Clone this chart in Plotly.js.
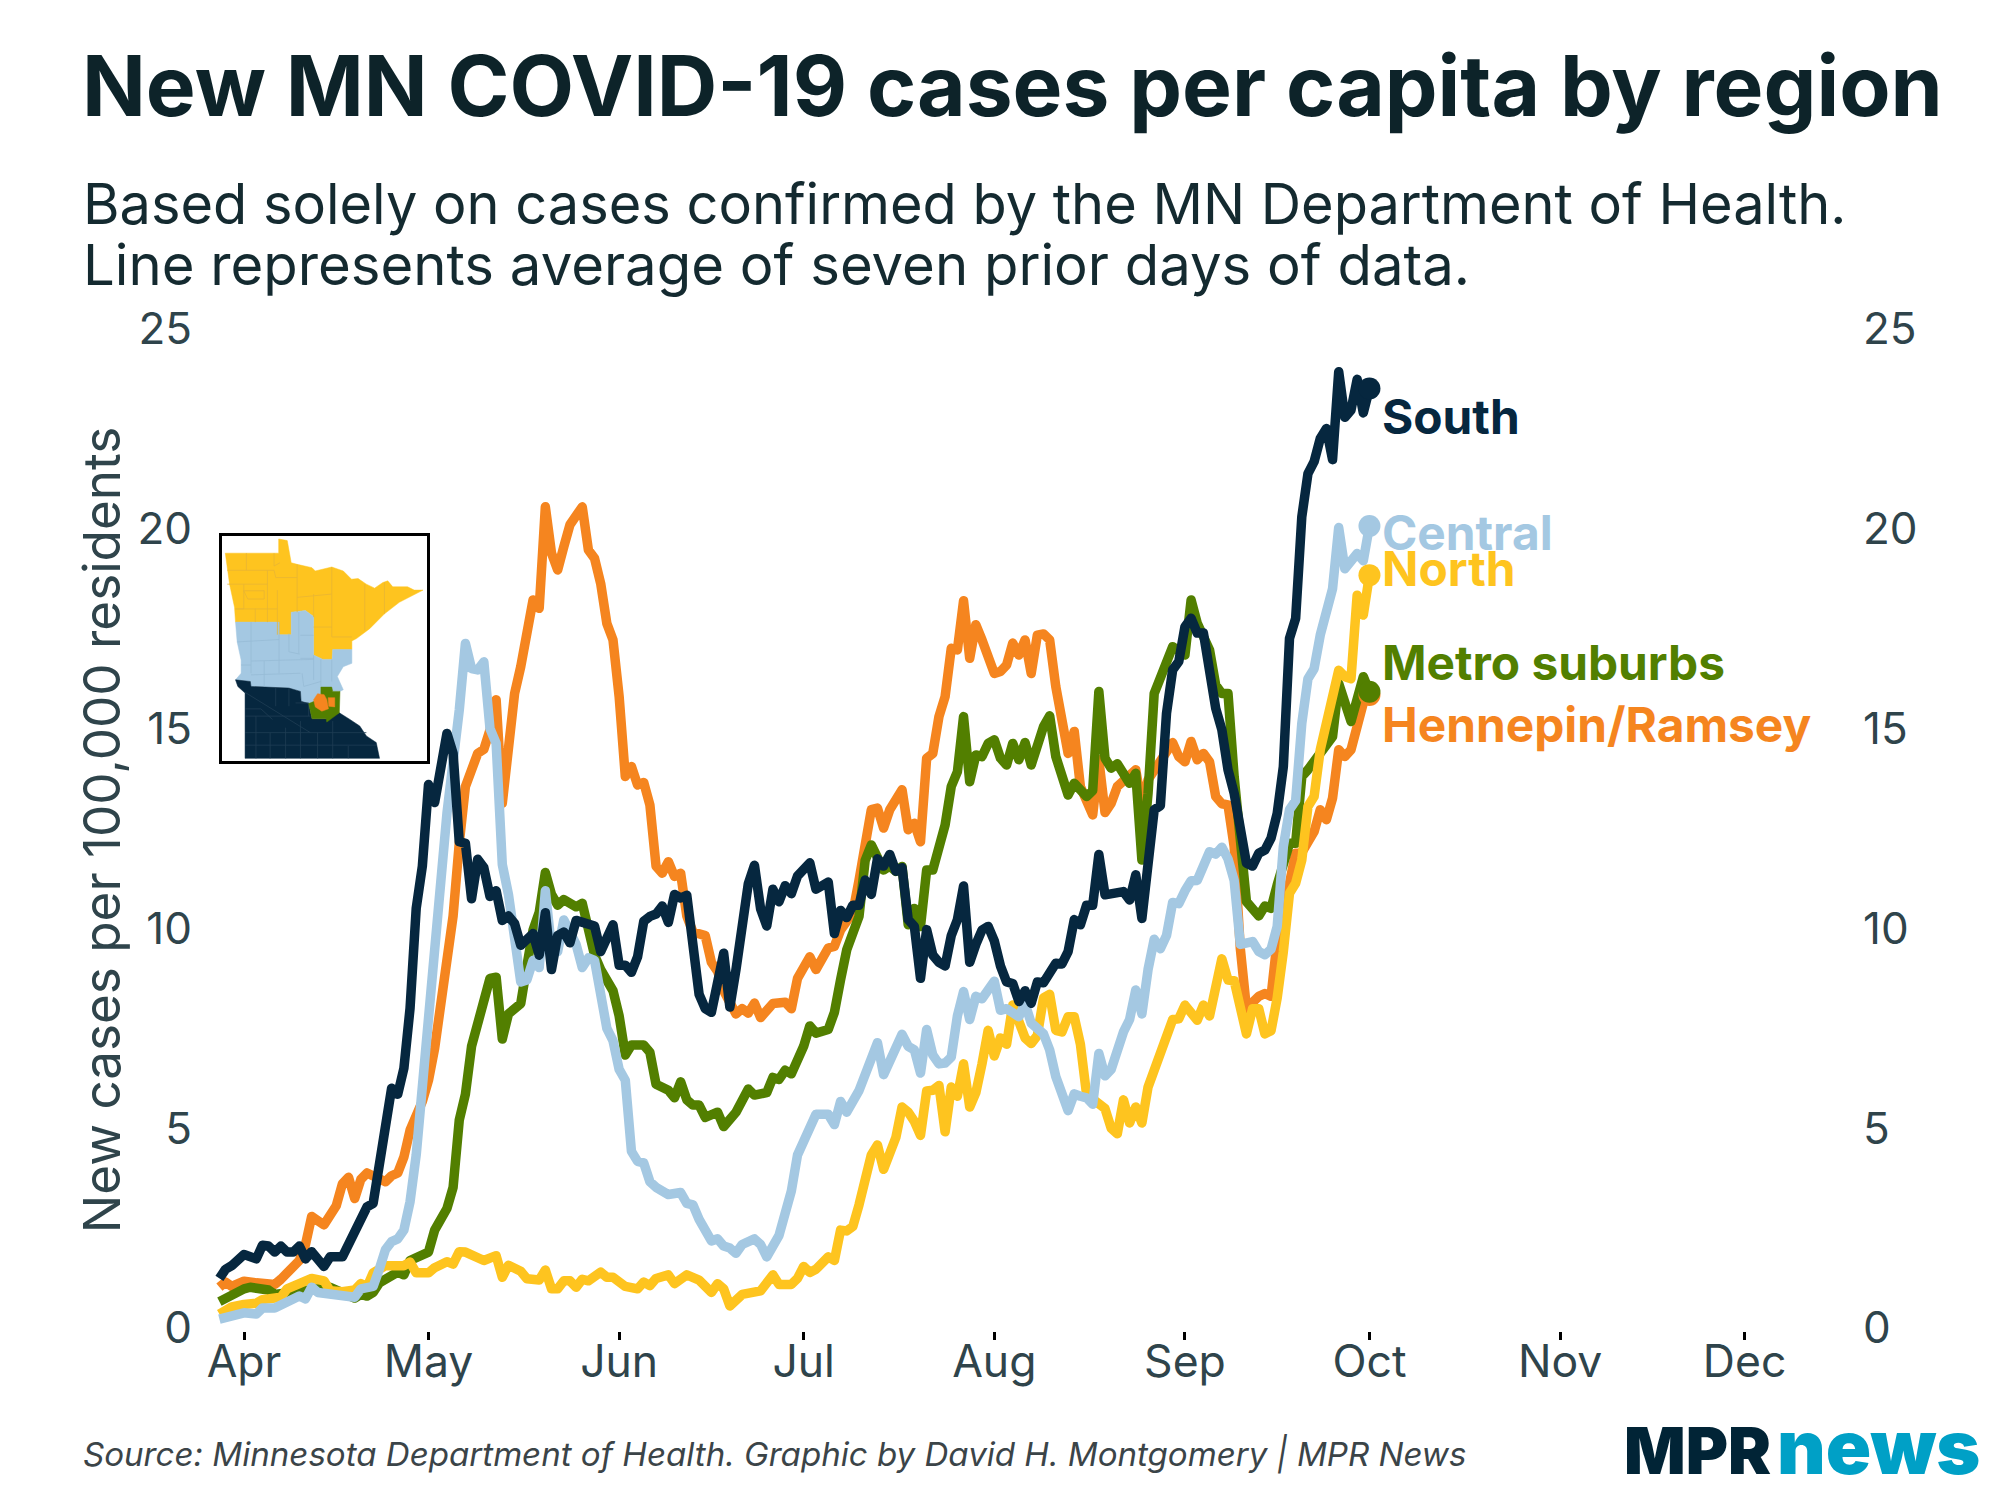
<!DOCTYPE html>
<html><head><meta charset="utf-8">
<script src="https://cdn.plot.ly/plotly-3.0.1.min.js"></script>
<style>html,body{margin:0;padding:0;background:#fff}.js-line{stroke-linejoin:round!important}</style></head>
<body><div id="chart" style="width:2000px;height:1500px"></div>
<script>
// [days since 1 April 2020, new cases per 100,000]
const south=[[-4,1.24],[-3,1.47],[-2,1.56],[0,1.84],[2,1.73],[3,2.07],[4,2.05],[5,1.9],[6,2.05],[7,1.9],[8,1.9],[9,2.05],[10,1.73],[11,1.91],[13,1.54],[14,1.78],[16,1.78],[18,2.43],[19,2.79],[20,3.03],[21,3.12],[22,4.06],[23,4.86],[24,6.0],[25,5.85],[26,6.5],[27,8.0],[28,10.5],[29,11.56],[30,13.6],[31,13.15],[32,13.96],[33,14.88],[34,14.38],[35,12.17],[36,12.13],[37,10.74],[38,11.73],[39,11.52],[40,10.8],[41,10.94],[42,10.2],[43,10.31],[44,10.12],[45,9.58],[47,9.87],[48,9.33],[49,10.39],[50,8.97],[51,9.82],[52,9.91],[53,9.64],[54,10.2],[57,10.06],[58,9.42],[60,10.09],[61,9.08],[62,9.08],[63,8.9],[64,9.29],[65,10.18],[66,10.3],[67,10.36],[68,10.56],[69,10.15],[70,10.85],[71,10.76],[72,10.83],[74,8.35],[75,7.99],[76,7.9],[78,9.38],[79,8.03],[80,8.97],[82,11.12],[83,11.58],[84,10.49],[85,10.06],[86,10.98],[87,10.67],[88,11.07],[89,10.87],[90,11.31],[92,11.64],[93,10.98],[95,11.16],[96,9.87],[97,10.45],[98,10.27],[99,10.58],[100,10.58],[101,11.21],[102,10.85],[103,11.74],[104,11.56],[105,11.85],[106,11.43],[107,11.52],[108,10.22],[109,10.05],[110,8.75],[111,9.97],[112,9.33],[113,9.15],[114,9.06],[115,9.82],[116,10.22],[117,11.06],[118,9.15],[119,9.6],[120,9.96],[121,10.05],[122,9.69],[123,9.06],[124,8.66],[125,8.62],[126,8.17],[127,8.44],[128,8.13],[129,8.66],[130,8.64],[132,9.13],[133,9.11],[134,9.42],[135,10.22],[136,10.09],[137,10.58],[138,10.58],[139,11.85],[140,10.84],[143,10.92],[144,10.71],[145,11.34],[146,10.25],[148,12.97],[149,13.07],[150,15.38],[151,16.47],[152,16.68],[153,17.55],[154,17.76],[155,17.39],[156,17.39],[158,15.51],[159,14.97],[160,13.97],[161,13.38],[163,11.63],[164,11.56],[165,11.88],[166,11.96],[167,12.26],[168,12.88],[169,14.05],[170,17.26],[171,17.76],[172,20.3],[173,21.38],[174,21.68],[175,22.26],[176,22.51],[177,21.73],[178,23.93],[179,22.79],[180,22.97],[181,23.74],[182,22.9],[183,23.51]];
const central=[[-4,.22],[-2,.31],[0,.38],[2,.35],[3,.5],[5,.5],[7,.62],[9,.8],[10,.73],[11,1.02],[12,.89],[14,.86],[16,.8],[17,.84],[18,.77],[19,.98],[21,1.04],[22,1.47],[23,1.96],[24,2.16],[25,2.23],[26,2.45],[27,3.16],[28,4.33],[29,6.11],[30,7.9],[31,9.78],[32,11.2],[33,12.88],[35,15.46],[36,17.13],[37,16.5],[38,16.47],[39,16.67],[40,15],[41,14.63],[42,11.6],[43,10.85],[44,9.51],[45,8.66],[46,8.71],[47,9.2],[48,9.02],[49,10.94],[50,9.51],[51,9.42],[52,10.21],[53,9.87],[54,9.6],[55,9.02],[56,9.26],[57,9.2],[58,8.26],[59,7.5],[60,7.19],[61,6.47],[62,6.2],[63,4.42],[64,4.17],[65,4.13],[66,3.66],[67,3.52],[69,3.34],[71,3.39],[72,3.12],[73,3.08],[74,2.72],[75,2.49],[76,2.18],[77,2.23],[78,2.05],[79,2.0],[80,1.87],[81,2.09],[83,2.23],[84,2.09],[85,1.78],[87,2.32],[88,2.85],[89,3.43],[90,4.33],[92,5.09],[93,5.35],[95,5.35],[96,5.09],[97,5.67],[98,5.4],[100,5.94],[102,6.83],[103,7.14],[104,6.34],[106,7.05],[107,7.35],[108,7.05],[109,6.96],[110,6.38],[111,7.47],[112,6.83],[113,6.61],[114,6.63],[115,6.78],[116,7.81],[117,8.42],[118,7.72],[119,8.3],[120,8.24],[122,8.68],[123,7.95],[124,7.99],[126,7.79],[127,8.12],[128,7.63],[130,7.36],[131,6.96],[132,6.29],[134,5.44],[135,5.86],[136,5.8],[137,5.76],[138,5.6],[139,6.87],[140,6.31],[141,6.47],[143,7.41],[144,7.72],[145,8.46],[146,7.86],[147,8.97],[148,9.73],[149,9.49],[150,9.82],[151,10.65],[152,10.62],[153,10.94],[154,11.19],[155,11.2],[157,11.92],[158,11.86],[159,12.03],[160,11.74],[161,11.2],[162,9.6],[164,9.67],[165,9.42],[166,9.34],[167,9.48],[168,10.05],[169,12.05],[170,12.97],[171,13.2],[172,15.13],[173,16.25],[174,16.5],[175,17.34],[176,18.05],[177,18.5],[178,20.03],[179,19.0],[181,19.38],[182,19.2],[183,20.07]];
const metro=[[-4,.66],[-2,.84],[0,.98],[1,1.02],[4,.95],[5,.84],[7,.88],[9,.89],[11,.93],[14,1.02],[18,.75],[19,.84],[20,.8],[21,.89],[22,1.13],[25,1.4],[26,1.33],[27,1.69],[30,1.9],[31,2.45],[33,2.99],[34,3.52],[35,5.2],[36,5.85],[37,7.05],[38,7.63],[39,8.12],[40,8.75],[41,8.78],[42,7.23],[43,7.86],[45,8.12],[46,9.06],[47,9.96],[48,10.4],[49,11.4],[50,10.85],[51,10.58],[52,10.72],[54,10.54],[55,10.63],[56,9.96],[57,9.33],[58,8.97],[60,8.44],[61,7.81],[62,6.83],[63,7.08],[65,7.08],[66,6.9],[67,6.1],[69,5.95],[70,5.76],[71,6.16],[72,5.71],[73,5.58],[74,5.58],[75,5.27],[77,5.4],[78,5.04],[80,5.4],[82,5.98],[83,5.83],[85,5.89],[86,6.27],[87,6.22],[88,6.45],[89,6.36],[91,7.05],[92,7.56],[93,7.38],[95,7.47],[96,7.9],[97,8.71],[98,9.46],[100,10.3],[101,11.7],[102,12.09],[103,11.8],[104,11.46],[105,11.56],[106,11.43],[107,11.55],[108,10.09],[109,10.5],[110,10.05],[111,11.46],[112,11.46],[114,12.59],[115,13.55],[116,13.92],[117,15.3],[118,13.67],[119,14.34],[120,14.3],[121,14.63],[122,14.72],[123,14.26],[124,14.09],[125,14.63],[126,14.22],[127,14.65],[128,14.09],[130,15.05],[131,15.32],[132,14.3],[134,13.34],[135,13.63],[137,13.3],[138,13.45],[139,15.93],[140,14.26],[141,14.01],[142,14.12],[144,13.63],[145,13.88],[146,11.71],[147,13.38],[148,15.88],[150,16.63],[151,17.05],[153,16.84],[154,18.22],[155,17.64],[157,16.97],[158,16.09],[159,15.88],[160,15.88],[161,13.8],[163,10.67],[165,10.31],[166,10.56],[167,10.5],[168,11.09],[170,12.13],[171,12.13],[172,13.8],[173,13.97],[174,14.17],[177,14.8],[178,16.13],[180,15.18],[182,16.3],[183,15.92]];
const hennepin=[[-4,1.02],[-3,1.15],[-2,1.04],[0,1.17],[2,1.13],[5,1.09],[6,1.22],[9,1.69],[10,2.09],[11,2.79],[13,2.58],[15,3.06],[16,3.61],[17,3.77],[18,3.24],[19,3.72],[20,3.88],[23,3.66],[24,3.81],[25,3.88],[26,4.28],[27,4.95],[29,5.67],[30,6.2],[31,7.0],[32,8.26],[33,9.15],[34,10.31],[35,12.13],[36,13.55],[38,14.38],[39,14.48],[40,14.97],[41,15.72],[42,13.13],[43,14.55],[44,15.88],[45,16.55],[46,17.55],[47,18.22],[48,18.01],[49,20.55],[50,19.39],[51,18.97],[52,19.55],[53,20.1],[55,20.55],[56,19.47],[57,19.26],[58,18.63],[59,17.63],[60,17.22],[61,15.8],[62,13.8],[63,14.05],[64,13.59],[65,13.65],[66,13.09],[67,11.56],[68,11.38],[69,11.67],[70,11.3],[71,11.38],[72,10.31],[73,9.91],[74,9.85],[75,9.82],[76,9.15],[77,8.93],[78,8.44],[79,8.13],[80,7.86],[81,7.99],[82,7.88],[83,8.13],[84,7.77],[86,8.12],[88,8.15],[89,7.99],[90,8.75],[92,9.29],[93,8.97],[95,9.51],[96,9.55],[97,9.96],[99,10.4],[100,11.2],[101,12.21],[102,12.97],[103,13.01],[104,12.51],[105,12.97],[107,13.47],[108,12.47],[109,12.63],[110,12.17],[111,14.26],[112,14.38],[113,15.3],[114,15.8],[115,17.01],[116,16.97],[117,18.2],[118,16.76],[119,17.6],[120,17.22],[122,16.38],[123,16.43],[124,16.59],[125,17.14],[126,16.84],[127,17.22],[128,16.38],[129,17.34],[130,17.37],[131,17.22],[132,16.05],[134,14.38],[135,14.93],[136,13.55],[138,12.84],[139,14.22],[140,12.9],[141,13.13],[142,13.55],[145,13.97],[146,13.05],[147,13.72],[149,14.22],[151,14.65],[152,14.3],[153,14.17],[154,14.68],[155,14.22],[156,14.38],[157,14.17],[158,13.3],[159,13.12],[160,13.09],[161,12.05],[162,9.5],[163,8.0],[165,8.3],[166,8.37],[167,8.3],[168,9.7],[170,11.13],[171,11.88],[172,11.9],[174,12.42],[175,12.97],[176,12.72],[177,13.26],[178,14.47],[179,14.3],[180,14.47],[182,15.64],[183,15.84]];
const north=[[-4,.35],[-2,.53],[0,.59],[2,.62],[3,.71],[6,.77],[7,.98],[9,1.09],[11,1.24],[13,1.18],[14,.93],[16,.91],[18,.95],[19,1.11],[20,1.02],[21,1.38],[23,1.56],[26,1.56],[27,1.65],[28,1.38],[30,1.38],[31,1.51],[33,1.66],[34,1.6],[35,1.91],[36,1.9],[39,1.69],[41,1.81],[42,1.27],[43,1.57],[45,1.42],[46,1.23],[48,1.2],[49,1.45],[50,.98],[51,.98],[52,1.18],[53,1.18],[54,1.02],[55,1.22],[56,1.18],[58,1.4],[59,1.27],[60,1.27],[62,1.04],[64,.98],[65,1.15],[66,1.06],[67,1.24],[69,1.33],[70,1.11],[72,1.33],[74,1.2],[76,.89],[77,1.11],[78,.98],[79,.55],[81,.84],[84,.93],[86,1.33],[87,1.09],[89,1.09],[90,1.24],[91,1.54],[92,1.39],[93,1.47],[95,1.78],[96,1.69],[97,2.45],[98,2.43],[99,2.54],[100,3.08],[101,3.61],[102,4.33],[103,4.58],[104,3.97],[106,4.77],[107,5.53],[108,5.4],[109,5.17],[110,4.82],[111,5.93],[112,5.95],[113,6.07],[114,4.91],[115,6.03],[116,5.8],[117,6.61],[118,5.53],[119,5.89],[120,6.61],[121,7.45],[122,6.81],[123,7.26],[124,7.1],[125,8.08],[127,7.26],[128,7.12],[129,7.32],[130,8.26],[131,8.35],[132,7.45],[133,7.41],[134,7.79],[135,7.79],[136,7.1],[137,5.85],[140,5.49],[141,5.0],[142,4.86],[143,5.71],[144,5.13],[145,5.53],[146,5.13],[147,6.03],[148,6.47],[150,7.2],[151,7.72],[152,7.74],[153,8.08],[155,7.7],[156,8.08],[157,7.81],[159,9.24],[160,8.71],[161,8.69],[163,7.36],[164,7.99],[165,7.99],[166,7.36],[167,7.44],[168,8.26],[169,9.42],[170,10.88],[171,11.13],[172,11.71],[173,13.05],[174,13.3],[175,14.47],[178,16.46],[179,16.3],[180,16.25],[181,18.34],[182,17.84],[183,18.84]];

const seriesNames=['Hennepin/Ramsey','Metro suburbs','North','Central','South'];
const seriesData=[hennepin,metro,north,central,south];
const seriesColors=['#f5851f','#527f00','#fec41f','#a4c8e2','#06273f'];
const labelY=[15.1,16.63,19.0,19.9,22.8];
const yTicks=[0,5,10,15,20,25];
const monthTicks=['2020-04-01','2020-05-01','2020-06-01','2020-07-01','2020-08-01','2020-09-01','2020-10-01','2020-11-01','2020-12-01'];

// Inset map outlines (map-space coordinates)
const mapNorth=[[72,156],[234,156],[234,113],[260,118],[272,185],[290,190],[335,200],[345,210],[395,198],[430,210],[455,235],[475,233],[500,250],[525,262],[550,245],[565,240],[580,258],[625,258],[645,268],[672,268],[600,305],[555,340],[510,385],[470,415],[456,422],[456,448],[398,448],[396,478],[368,478],[340,465],[340,348],[315,330],[272,335],[272,403],[234,403],[234,365],[103,365],[100,320],[85,250],[78,200],[72,156]];
const mapCentral=[[103,365],[234,365],[234,403],[272,403],[272,335],[315,330],[340,348],[340,465],[368,478],[396,478],[398,448],[456,448],[456,490],[430,500],[412,530],[430,570],[420,575],[398,575],[395,562],[362,562],[362,585],[342,605],[325,612],[302,605],[300,575],[265,565],[150,560],[148,545],[103,540],[120,520],[120,480],[108,425],[103,365]];
const mapSouth=[[103,540],[148,545],[150,560],[265,565],[300,575],[302,605],[325,612],[330,640],[335,658],[380,658],[418,640],[450,660],[480,680],[500,710],[530,730],[540,778],[132,778],[132,580],[110,560],[103,540]];
const mapMetro=[[362,562],[395,562],[398,575],[420,575],[418,640],[380,668],[378,658],[335,658],[325,612],[342,605],[362,585],[362,562]];
const mapHennepin=[[340,600],[352,582],[372,585],[380,600],[385,628],[365,635],[345,622],[340,600]];
const mapRamsey=[[384,594],[404,594],[404,622],[386,620],[384,594]];
const linesNorth=[[[136,156],[136,208]],[[78,208],[220,208],[225,230],[290,230]],[[290,190],[290,335]],[[78,250],[200,250]],[[200,208],[200,365]],[[128,250],[128,325],[103,325]],[[128,270],[190,270],[190,295],[140,295],[128,270]],[[103,325],[230,325]],[[163,325],[163,365]],[[230,268],[230,403]],[[395,198],[395,410]],[[290,290],[395,280]],[[340,280],[340,350]],[[340,380],[395,380]],[[395,410],[456,410]],[[495,250],[495,390]],[[555,245],[555,340]],[[220,156],[220,195],[238,185]]];
const linesCentral=[[[150,365],[150,520]],[[108,425],[235,418]],[[235,365],[235,520]],[[295,335],[295,460]],[[265,400],[265,455],[298,462]],[[120,495],[150,495]],[[150,483],[340,478]],[[150,525],[300,520]],[[190,483],[190,560]],[[340,465],[340,540]],[[362,478],[362,560]],[[395,478],[395,545]],[[305,520],[310,560],[362,545]],[[300,405],[340,405]],[[300,475],[340,475]]];
const linesSouth=[[[132,628],[180,628],[215,660]],[[132,650],[330,650]],[[132,578],[330,700]],[[132,700],[500,700]],[[132,738],[530,738]],[[165,650],[165,778]],[[208,700],[208,778]],[[255,685],[255,778]],[[300,665],[300,778]],[[352,700],[352,778]],[[398,665],[398,778]],[[445,740],[445,778]],[[225,565],[225,620]],[[265,565],[265,620]],[[285,610],[325,610],[325,650]]];
const mapFills=[[mapNorth,'#fec41f'],[mapCentral,'#a4c8e2'],[mapSouth,'#06273f']];
const mapTop=[[mapMetro,'#527f00'],[mapHennepin,'#f5851f'],[mapRamsey,'#f5851f']];
const mapLines=[[linesNorth,'#e8b534'],[linesCentral,'#97bbd6'],[linesSouth,'#1f3e54']];

// Page geometry
const W=2000,H=1500,L=205,R=1850,T=329,B=1331;
const px=x=>(x-L)/(R-L), py=y=>(B-y)/(B-T);
const toDate=d=>new Date(Date.UTC(2020,3,1)+d*86400000).toISOString().slice(0,19).replace('T',' ');
const dayAt=x=>(x-244)/6.15;

const traces=[];
seriesData.forEach((s,i)=>traces.push({type:'scatter',mode:'lines',name:seriesNames[i],x:s.map(p=>toDate(p[0])),y:s.map(p=>p[1]),line:{color:seriesColors[i],width:9.5,shape:'linear'},hoverinfo:'x+y+name'}));
traces.push({type:'scatter',mode:'markers',yaxis:'y2',x:seriesData.map(s=>toDate(s[s.length-1][0])),y:seriesData.map(s=>s[s.length-1][1]),marker:{color:seriesColors,size:22},hoverinfo:'skip',cliponaxis:false,showlegend:false});
const fillTrace=([poly,c])=>traces.push({type:'scatter',mode:'lines',xaxis:'x2',yaxis:'y3',x:poly.map(p=>p[0]),y:poly.map(p=>p[1]),fill:'toself',fillcolor:c,line:{color:c,width:.5},hoverinfo:'skip',showlegend:false});
mapFills.forEach(fillTrace);
mapLines.forEach(([segs,c])=>{const xs=[],ys=[];segs.forEach(g=>{g.forEach(p=>{xs.push(p[0]);ys.push(p[1]);});xs.push(null);ys.push(null);});traces.push({type:'scatter',mode:'lines',xaxis:'x2',yaxis:'y3',x:xs,y:ys,line:{color:c,width:.8},hoverinfo:'skip',showlegend:false,connectgaps:false});});
mapTop.forEach(fillTrace);

const FONT='Inter, sans-serif', TICK='#2f444b';
const annotations=[
 {text:'Based solely on cases confirmed by the MN Department of Health.',x:px(81),y:py(204),font:{size:55.9,color:'#142a30'}},
 {text:'Line represents average of seven prior days of data.',x:px(81),y:py(265),font:{size:56.25,color:'#142a30'}},
 {text:'<i>Source: Minnesota Department of Health. Graphic by David H. Montgomery | MPR News</i>',x:px(81),y:py(1454),font:{size:33.1,color:'#3b4448'}},
 {text:'MPR',x:px(1622),y:py(1451),font:{size:64.5,color:'#012436',weight:900}},
 {text:'news',x:px(1775),y:py(1446),font:{size:75,color:'#00a0c6',weight:900}}
].map(a=>Object.assign({xref:'paper',yref:'paper',xanchor:'left',yanchor:'middle',showarrow:false},a));
seriesNames.forEach((n,i)=>annotations.push({text:'<b>'+n+'</b>',xref:'x',yref:'y',x:toDate(dayAt(1380)),y:labelY[i],xanchor:'left',yanchor:'middle',showarrow:false,font:{size:47.8,color:seriesColors[i]}}));

const layout={
 width:W,height:H,paper_bgcolor:'#fff',plot_bgcolor:'rgba(0,0,0,0)',showlegend:false,hovermode:false,
 font:{family:FONT,color:TICK},
 margin:{l:L,r:W-R,t:T,b:H-B,pad:0},
 title:{text:'<b>New MN COVID-19 cases per capita by region</b>',x:82/W,xanchor:'left',xref:'container',y:1-87/H,yanchor:'middle',yref:'container',font:{family:FONT,size:83.8,color:'#0d2329'}},
 xaxis:{type:'date',range:[toDate(dayAt(L)),toDate(dayAt(R))],tickmode:'array',tickvals:monthTicks,tickformat:'%b',ticks:'outside',ticklen:8,tickwidth:2.5,tickcolor:'#000',ticklabelstandoff:-16,showgrid:false,zeroline:false,showline:false,tickfont:{size:44.5,color:TICK},domain:[0,1]},
 xaxis2:{domain:[px(222),px(427)],range:[62,684],anchor:'y3',showgrid:false,zeroline:false,showticklabels:false,ticks:'',showline:true,mirror:true,linecolor:'#000',linewidth:2.7,fixedrange:true},
 yaxis:{range:[-0.075,25],tickmode:'array',tickvals:yTicks,showgrid:false,zeroline:false,showline:false,ticks:'',ticklabelstandoff:12,tickfont:{size:44,color:TICK},title:{text:'New cases per 100,000 residents',standoff:0,font:{size:51.2,color:TICK}},automargin:false},
 yaxis2:{range:[-0.075,25],overlaying:'y',side:'right',tickmode:'array',tickvals:yTicks,showgrid:false,zeroline:false,showline:false,ticks:'',ticklabelstandoff:12,tickfont:{size:44,color:TICK}},
 yaxis3:{domain:[py(761),py(536)],range:[786,104],anchor:'x2',showgrid:false,zeroline:false,showticklabels:false,ticks:'',showline:true,mirror:true,linecolor:'#000',linewidth:2.7,fixedrange:true},
 annotations
};
Plotly.newPlot('chart',traces,layout,{displayModeBar:false,responsive:false});
</script></body></html>
